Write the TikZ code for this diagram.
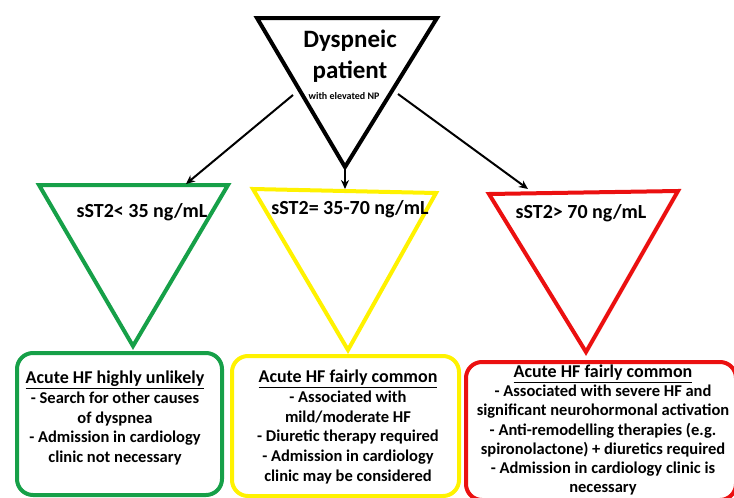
\documentclass[tikz,border=0pt]{standalone}
\usepackage{fontspec}
\setmainfont{Carlito}
\usetikzlibrary{arrows.meta}
\definecolor{hfgreen}{RGB}{22,160,72}
\definecolor{hfyellow}{RGB}{255,242,0}
\definecolor{hfred}{RGB}{235,16,16}
\newcommand{\hftitle}[1]{{\fontsize{18}{19.8}\selectfont\underline{#1}}}
\tikzset{
  tri/.style={line width=4pt, line join=miter},
  hfbox/.style={line width=4pt, rounded corners=16pt},
  conn/.style={line width=2pt, -{Stealth[length=9pt,width=8pt]}},
  lbl/.style={font=\bfseries\fontsize{20}{22}\selectfont, inner sep=0pt},
  boxtext/.style={font=\bfseries\fontsize{16.5}{19.8}\selectfont, align=center, inner sep=0pt},
}
\begin{document}
\begin{tikzpicture}[x=1pt,y=-1pt]
\useasboundingbox (0,0) rectangle (734,498);
% top triangle
\coordinate (tA) at (257,18);
\coordinate (tB) at (437,18);
\coordinate (tC) at (345,167);
\draw[tri] (tA) -- (tB) -- (tC) -- cycle;
\node[font=\bfseries\fontsize{25}{31}\selectfont, align=center, inner sep=0pt] (title) at (350,56) {Dyspneic\\patient};
\node[font=\bfseries\fontsize{10}{12}\selectfont, inner sep=0pt] (np) at (344,96) {with elevated NP};
% level triangles
\coordinate (gA) at (39,185);
\coordinate (gB) at (228,185);
\coordinate (gC) at (133,346);
\draw[tri, hfgreen] (gA) -- (gB) -- (gC) -- cycle;
\coordinate (yA) at (253,189);
\coordinate (yB) at (436,193);
\coordinate (yC) at (348,350);
\draw[tri, hfyellow] (yA) -- (yB) -- (yC) -- cycle;
\coordinate (rA) at (489,194);
\coordinate (rB) at (678,191);
\coordinate (rC) at (586,352);
\draw[tri, hfred] (rA) -- (rB) -- (rC) -- cycle;
\node[lbl] (gl) at (142,212) {sST2< 35 ng/mL};
\node[lbl] (yl) at (350,209) {sST2= 35-70 ng/mL};
\node[lbl] (rl) at (581,213) {sST2> 70 ng/mL};
% connectors
\coordinate (s1) at (293,95);
\coordinate (e1) at (186,184);
\coordinate (e2) at (345,189);
\coordinate (s3) at (398,94);
\coordinate (e3) at (528,189);
\draw[conn] (s1) -- (e1);
\draw[conn] (tC) -- (e2);
\draw[conn] (s3) -- (e3);
% boxes
\draw[hfbox, hfgreen] (17,353) rectangle (222,495);
\draw[hfbox, hfyellow] (232,356) rectangle (459,496);
\draw[hfbox, hfred] (466,362) rectangle (736,500);
\node[boxtext] (gt) at (115,418) {\hftitle{Acute HF highly unlikely}\\- Search for other causes\\of dyspnea\\- Admission in cardiology\\clinic not necessary};
\node[boxtext] (yt) at (348,427) {\hftitle{Acute HF fairly common}\\- Associated with\\mild/moderate HF\\- Diuretic therapy required\\- Admission in cardiology\\clinic may be considered};
\node[boxtext, font=\bfseries\fontsize{16.5}{19.1}\selectfont] (rt) at (603,430) {\hftitle{Acute HF fairly common}\\- Associated with severe HF and\\significant neurohormonal activation\\- Anti-remodelling therapies (e.g.\\spironolactone) + diuretics required\\- Admission in cardiology clinic is\\necessary};
\end{tikzpicture}
\end{document}
